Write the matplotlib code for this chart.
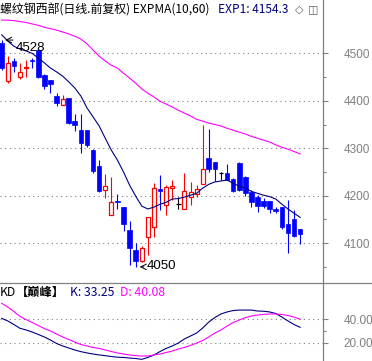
import matplotlib
matplotlib.use("Agg")
import matplotlib.pyplot as plt
from matplotlib.lines import Line2D
import numpy as np

# candles (price), 50 bars
opens = [4521, 4442, 4484, 4451, 4470, 4487, 4508, 4454, 4444, 4410,
         4392, 4406, 4357, 4338, 4338, 4296, 4262, 4212, 4160, 4189,
         4176, 4127, 4085, 4062, 4113, 4134, 4214, 4180, 4217, 4182,
         4172, 4197, 4203, 4224, 4279, 4271, 4248, 4247, 4236, 4268,
         4240, 4208, 4197, 4189, 4188, 4171, 4176, 4141, 4150, 4129]
highs = [4528, 4494, 4491, 4480, 4485, 4490, 4512, 4456, 4444, 4416,
         4412, 4406, 4372, 4372, 4338, 4298, 4275, 4245, 4240, 4203,
         4176, 4146, 4100, 4093, 4155, 4226, 4243, 4222, 4233, 4198,
         4248, 4229, 4222, 4349, 4340, 4271, 4250, 4266, 4237, 4270,
         4242, 4212, 4201, 4195, 4188, 4176, 4176, 4190, 4169, 4129]
lows = [4465, 4437, 4461, 4446, 4450, 4470, 4448, 4425, 4417, 4389,
        4392, 4351, 4337, 4290, 4303, 4248, 4208, 4195, 4160, 4171,
        4125, 4053, 4050, 4060, 4076, 4113, 4170, 4160, 4190, 4172,
        4172, 4180, 4198, 4224, 4250, 4231, 4233, 4233, 4208, 4210,
        4199, 4176, 4166, 4174, 4164, 4164, 4129, 4079, 4113, 4099]
closes = [4469, 4480, 4473, 4461, 4472, 4484, 4451, 4431, 4435, 4395,
          4403, 4354, 4350, 4311, 4307, 4253, 4209, 4220, 4186, 4187,
          4141, 4090, 4062, 4090, 4155, 4216, 4210, 4219, 4220, 4182,
          4210, 4208, 4214, 4256, 4256, 4256, 4248, 4233, 4210, 4212,
          4205, 4187, 4178, 4178, 4173, 4168, 4134, 4122, 4115, 4120]

# EXPMA(10,60)
exp1 = [4539, 4526, 4515, 4509, 4505, 4500, 4490, 4480, 4469, 4461,
        4452, 4440, 4427, 4410, 4385, 4366, 4347, 4321, 4296, 4275,
        4250, 4222, 4199, 4178, 4172, 4176, 4182, 4186, 4193, 4194,
        4197, 4201, 4205, 4216, 4224, 4229, 4231, 4233, 4226, 4220,
        4216, 4209, 4205, 4201, 4198, 4193, 4182, 4172, 4163, 4154.3]
exp2 = [4570, 4570, 4569, 4567, 4565, 4562, 4559, 4555, 4552, 4549,
        4545, 4541, 4536, 4530, 4520, 4507, 4494, 4484, 4475, 4469,
        4458, 4448, 4437, 4425, 4416, 4408, 4399, 4393, 4387, 4380,
        4374, 4368, 4361, 4357, 4353, 4350, 4347, 4342, 4338, 4334,
        4330, 4325, 4321, 4317, 4313, 4307, 4302, 4298, 4293, 4288]

# KD
k_vals = [40.8, 38.6, 35.6, 32.4, 31.0, 29.3, 27.2, 25.1, 22.5, 19.6,
          17.5, 15.8, 14.1, 12.7, 11.6, 10.7, 9.9, 9.3, 8.6, 8.0,
          7.8, 7.3, 6.9, 6.2, 7.8, 9.9, 12.8, 15.4, 17.5, 20.0,
          23.4, 25.9, 28.4, 32.7, 37.7, 41.5, 44.5, 46.2, 47.4, 47.8,
          47.8, 47.8, 47.0, 46.8, 46.2, 44.9, 41.9, 38.6, 35.6, 33.25]
d_vals = [53.5, 50.4, 46.6, 42.4, 39.8, 37.3, 34.8, 32.2, 30.1, 27.6,
          25.1, 23.0, 20.8, 18.7, 17.5, 16.2, 15.4, 14.1, 12.8, 11.6,
          10.7, 9.9, 9.3, 9.0, 9.0, 9.9, 10.7, 12.0, 13.2, 14.9,
          16.2, 17.9, 20.0, 22.1, 25.1, 28.4, 31.0, 34.3, 37.3, 39.4,
          41.4, 42.8, 43.6, 44.2, 44.5, 44.5, 44.1, 43.2, 41.9, 40.08]

price_ticks = [4100, 4200, 4300, 4400, 4500]
kd_ticks = [20, 40]

W, H = 372, 361
GRAY = "#808080"
NAVY = "#000080"
MAG = "#FF00FF"
CJK = ["Noto Sans CJK SC", "DejaVu Sans"]


def fx(px):
    return px / W


def fy(py):
    return 1 - py / H


fig = plt.figure(figsize=(W / 100, H / 100), dpi=100)
fig.patch.set_facecolor("white")

ax = fig.add_axes([0, fy(283.3), fx(322.7), 283.3 / H])
ax2 = fig.add_axes([0, 0, fx(322.7), (H - 283.3) / H])

o = np.array(opens, float)
h = np.array(highs, float)
l = np.array(lows, float)
c = np.array(closes, float)
x = np.arange(len(o))

up = c > o
dn = c < o
dj = c == o

wick_col = np.where(up, "#FF0000", np.where(dn, "#0000FF", "black"))
ax.vlines(x, l, h, colors=wick_col, lw=0.8, zorder=2)
ax.bar(x[dn], o[dn] - c[dn], bottom=c[dn], width=0.76, color="#0000FF",
       edgecolor="#0000FF", lw=0.5, zorder=3)
ax.bar(x[up], c[up] - o[up], bottom=o[up], width=0.66, facecolor="white",
       edgecolor="#FF0000", lw=0.9, zorder=3)
ax.hlines(c[dj], x[dj] - 0.4, x[dj] + 0.4, colors="black", lw=0.9, zorder=3)

ax.plot(x, exp1, color=NAVY, lw=0.8, zorder=4)
ax.plot(x, exp2, color=MAG, lw=0.8, zorder=4)

ax.annotate("", xy=(0.1, 4528), xytext=(2.3, 4528),
            arrowprops=dict(arrowstyle="->", color="black", lw=0.7), zorder=5)
ax.text(2.35, 4511, "4528", fontsize=9.5, family="Liberation Sans",
        va="center", ha="left", zorder=5)
ax.annotate("", xy=(22.2, 4050), xytext=(23.8, 4050),
            arrowprops=dict(arrowstyle="->", color="black", lw=0.7), zorder=5)
ax.text(23.85, 4051, "4050", fontsize=9.5, family="Liberation Sans",
        va="center", ha="left", zorder=5)

ax2.plot(x, k_vals, color=NAVY, lw=0.8)
ax2.plot(x, d_vals, color=MAG, lw=0.8)

ax.set_xlim(-0.28, 52.7)
ax2.set_xlim(-0.28, 52.7)
ax.set_ylim(4015.4, 4612.4)
ax2.set_ylim(4.8, 70.4)

for a, ticks, minors, fmt in [
        (ax, price_ticks, [4050, 4150, 4250, 4350, 4450], "{:.0f}"),
        (ax2, kd_ticks, [30], "{:.2f}")]:
    for s in a.spines.values():
        s.set_visible(False)
    a.set_facecolor("none")
    a.set_xticks([])
    a.yaxis.tick_right()
    a.set_yticks(ticks)
    a.set_yticklabels([fmt.format(t) for t in ticks])
    a.set_yticks(minors, minor=True)
    a.tick_params(axis="y", which="major", length=3.8, width=0.8,
                  color=GRAY, labelcolor=GRAY, labelsize=8.5, pad=11)
    a.tick_params(axis="y", which="minor", length=2.2, width=0.8, color=GRAY)
    for lab in a.get_yticklabels():
        lab.set_family("Liberation Sans")
    for t in ticks:
        a.axhline(t, color=GRAY, lw=0.8, linestyle=(0, (1, 3.2)), zorder=1)

# frame lines
fig.add_artist(Line2D([fx(322.7)] * 2, [0, 1], color=GRAY, lw=0.9))
fig.add_artist(Line2D([0, 1], [fy(283.3)] * 2, color=GRAY, lw=0.9))

# headers
fig.text(fx(0), fy(9.5), "螺纹钢西部(日线.前复权) EXPMA(10,60)", fontsize=8.6,
         family=CJK, va="center", ha="left")
fig.text(fx(218), fy(9.5), "EXP1: 4154.3", fontsize=8.6, family=CJK,
         color=NAVY, va="center", ha="left")
fig.text(fx(295), fy(9.5), "◇", fontsize=8, family=["DejaVu Sans"],
         color="#606060", va="center", ha="left")
fig.text(fx(308), fy(9.5), "◫", fontsize=8, family=["DejaVu Sans"],
         color="#606060", va="center", ha="left")

fig.text(fx(0), fy(292), "KD", fontsize=8.8, family=CJK, va="center", ha="left")
fig.text(fx(16), fy(292), "【巅峰】", fontsize=8.8, family=CJK,
         fontweight="bold", va="center", ha="left")
fig.text(fx(70), fy(292), "K: 33.25", fontsize=8.8, family=CJK, color=NAVY,
         va="center", ha="left")
fig.text(fx(120), fy(292), "D: 40.08", fontsize=8.8, family=CJK, color=MAG,
         va="center", ha="left")

fig.savefig("out.png", dpi=100)
